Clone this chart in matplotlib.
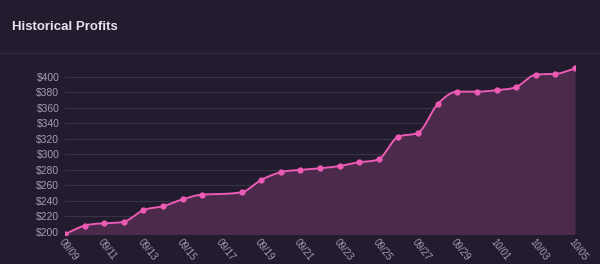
import numpy as np
import matplotlib
matplotlib.use("Agg")
import matplotlib.pyplot as plt
from matplotlib.lines import Line2D

# data (09/17 has no entry)
dates = ["09/09", "09/10", "09/11", "09/12", "09/13", "09/14", "09/15", "09/16",
         "09/18", "09/19", "09/20", "09/21", "09/22", "09/23", "09/24", "09/25",
         "09/26", "09/27", "09/28", "09/29", "09/30", "10/01", "10/02", "10/03",
         "10/04", "10/05"]
day_index = [0, 1, 2, 3, 4, 5, 6, 7, 9, 10, 11, 12, 13, 14, 15, 16, 17, 18, 19,
             20, 21, 22, 23, 24, 25, 26]
profits = [197, 208, 211, 213, 228, 233, 242, 248, 251, 267, 277, 280, 282, 285,
           290, 294, 323, 328, 365, 381, 381, 383, 387, 403, 404, 411]
tick_labels = ["09/09", "09/11", "09/13", "09/15", "09/17", "09/19", "09/21",
               "09/23", "09/25", "09/27", "09/29", "10/01", "10/03", "10/05"]

BG = "#221c2e"
LINE = "#ec5bb4"
FILL = "#4b2a4b"
GRID = "#3a3346"
TXT = "#a29db0"


def monotone(x, y, n=20):
    # monotone cubic (Fritsch-Carlson) for the smooth line drawing
    x = np.asarray(x, float)
    y = np.asarray(y, float)
    h = np.diff(x)
    d = np.diff(y) / h
    m = np.zeros_like(y)
    m[0], m[-1] = d[0], d[-1]
    for i in range(1, len(y) - 1):
        if d[i - 1] * d[i] <= 0:
            m[i] = 0
        else:
            m[i] = (d[i - 1] + d[i]) / 2
    for i in range(len(d)):
        if d[i] == 0:
            m[i] = m[i + 1] = 0
            continue
        a, b = m[i] / d[i], m[i + 1] / d[i]
        s = a * a + b * b
        if s > 9:
            t = 3 / np.sqrt(s)
            m[i] = t * a * d[i]
            m[i + 1] = t * b * d[i]
    xs, ys = [], []
    for i in range(len(d)):
        t = np.linspace(0, 1, n, endpoint=False)
        h00 = 2 * t**3 - 3 * t**2 + 1
        h10 = t**3 - 2 * t**2 + t
        h01 = -2 * t**3 + 3 * t**2
        h11 = t**3 - t**2
        xs.append(x[i] + t * h[i])
        ys.append(h00 * y[i] + h10 * h[i] * m[i] + h01 * y[i + 1] + h11 * h[i] * m[i + 1])
    xs.append([x[-1]])
    ys.append([y[-1]])
    return np.concatenate(xs), np.concatenate(ys)


fig = plt.figure(figsize=(6, 2.64), dpi=100, facecolor=BG)
fig.text(12 / 600, 1 - 27 / 264, "Historical Profits", color="#e6e3ea",
         fontsize=9.5, fontweight="bold", family="Liberation Sans", va="center")
fig.add_artist(Line2D([0, 1], [1 - 53 / 264] * 2, color="#2f2840", lw=1))

ax = fig.add_axes([65 / 600, 1 - 234.5 / 264, 510 / 600, (234.5 - 61.5) / 264])
ax.set_facecolor(BG)

xs, ys = monotone(day_index, profits)
ymin = 196.5
ax.fill_between(xs, ys, ymin, color=FILL, lw=0)
ax.plot(xs, ys, color=LINE, lw=1.4, zorder=3)
ax.plot(day_index, profits, "o", color=LINE, ms=3.5, zorder=4)

ax.set_xlim(0, 26)
ax.set_ylim(ymin, 420)
ax.set_yticks(np.arange(200, 401, 20))
ax.set_yticklabels(["$%d" % v for v in range(200, 401, 20)])
ax.set_xticks(range(0, 27, 2))
ax.set_xticklabels(tick_labels, rotation=-52, ha="left", va="top",
                   rotation_mode="anchor")
ax.grid(axis="y", color=GRID, lw=0.8)
ax.set_axisbelow(True)
for s in ax.spines.values():
    s.set_visible(False)
ax.tick_params(axis="y", length=0, colors=TXT, labelsize=7.5, pad=4)
ax.tick_params(axis="x", length=0, colors=TXT, labelsize=7, pad=2)
for lab in ax.get_xticklabels() + ax.get_yticklabels():
    lab.set_family("Liberation Sans")

fig.savefig("out.png", dpi=100, facecolor=BG)
